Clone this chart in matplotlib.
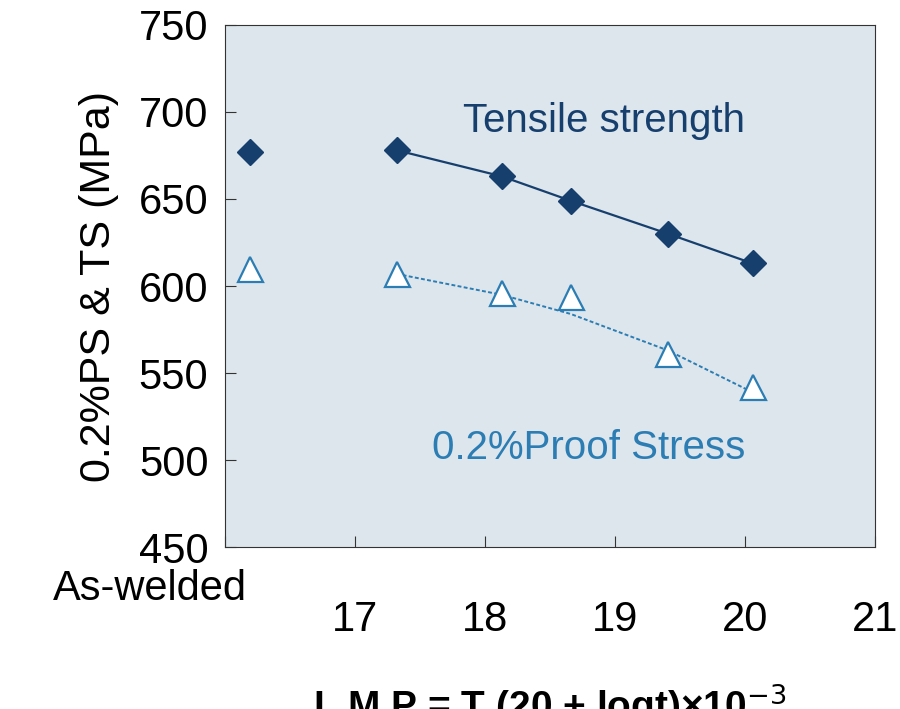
import matplotlib
matplotlib.use("Agg")
import matplotlib.pyplot as plt

plt.rcParams['font.family'] = ['Liberation Sans', 'DejaVu Sans']

x_pts = [16.19, 17.32, 18.13, 18.66, 19.41, 20.06]
ts_vals = [677, 678, 663, 649, 630, 613]
ps_vals = [610, 607, 596, 594, 561, 542]
ps_trend = [607, 595, 584, 563, 539]
xticks = [16, 17, 18, 19, 20, 21]
xticklabels = ["", "17", "18", "19", "20", "21"]
yticks = [450, 500, 550, 600, 650, 700, 750]

navy = "#173f6e"
blue = "#2c7db3"

fig = plt.figure(figsize=(9, 7.09), dpi=100)
ax = fig.add_axes([0.25, 0.228, 0.722, 0.737])
ax.set_facecolor("#dce6ec")
ax.set_xlim(16, 21)
ax.set_ylim(450, 750)

ax.plot(x_pts[1:], ts_vals[1:], color=navy, lw=1.6, zorder=2)
ax.plot(x_pts, ts_vals, ls="none", marker="D", ms=13, color=navy, zorder=3)
ax.plot(x_pts[1:], ps_trend, color=blue, lw=1.4, ls=(0, (2, 1.2)), zorder=2)
ax.plot(x_pts, ps_vals, ls="none", marker="^", ms=18, mfc="white", mec=blue, mew=1.6, zorder=3)

ax.set_xticks(xticks)
ax.set_xticklabels(xticklabels)
ax.set_yticks(yticks)
ax.tick_params(direction="in", labelsize=30, length=8, color="#333333")
ax.tick_params(axis="x", pad=38)
ax.tick_params(axis="y", pad=12)
for s in ax.spines.values():
    s.set_color("#333333")
ax.text(15.42, 426, "As-welded", fontsize=30, ha="center", va="center", clip_on=False)

ax.text(18.92, 695, "Tensile strength", fontsize=29, color=navy, ha="center", va="center")
ax.text(18.8, 507, "0.2%Proof Stress", fontsize=29, color=blue, ha="center", va="center")

ax.set_ylabel("0.2%PS & TS (MPa)", fontsize=31, labelpad=14)
ax.set_xlabel(r"L.M.P = T (20 + logt)×10$^{-3}$", fontsize=28, fontweight="bold", labelpad=30)

fig.savefig("out.png", dpi=100)
